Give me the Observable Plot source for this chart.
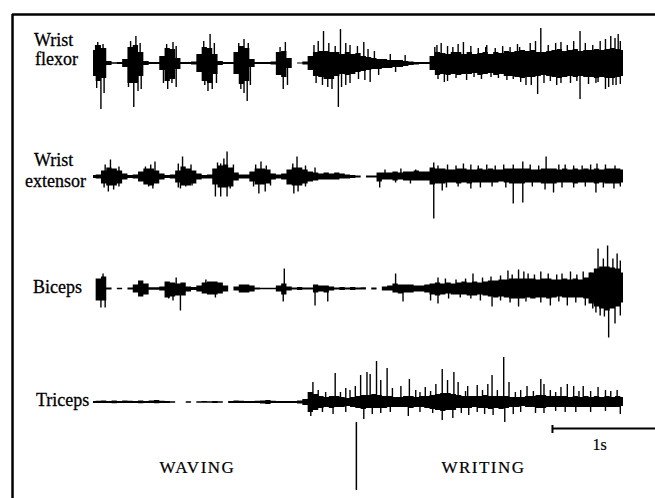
<!DOCTYPE html>
<html><head><meta charset="utf-8">
<script src="https://cdn.jsdelivr.net/npm/d3@7"></script>
<script src="https://cdn.jsdelivr.net/npm/@observablehq/plot@0.6"></script>
<style>
body{margin:0;background:#fff;}
#chart svg{display:block;}
</style></head><body><div id="chart"></div>
<script>
// ---- data (EMG envelopes; one value per 50 ms, 0 … 5 s) ----
const sampleStep = 0.05; // seconds between envelope samples
const muscles = ["Wrist flexor", "Wrist extensor", "Biceps", "Triceps"];
const phases = ["WAVING", "WRITING"];
const phaseSwitch = 2.48; // s
const scaleBarLabel = "1s";

// amplitude above (Up) and below (Down) the resting line, arbitrary units
const flexorUp = [13,18,15,2,0.8,1, 4,16,18,11,2,1,1, 7,15,14,5,1,1,1.5, 9,16,15,9,2,1,1, 11,17,15,4,1,1,1,1.5, 11,12,5,0,0.6,1.5,
 7,11,12,12,11,11,9,11,9,10,7,6,5,4,4,3,3,3,2,1.5,1,1,1,
 7,11,10,9,11,11,9,11,9,10,11,9,11,10,12,11,12,13,12,13,11,11,12,13,14,12,13,14,12,13,13,14,13,14,15,14,13];
const flexorDown = [13,18,15,2,0.8,1, 4,20,20,13,2,1,1, 7,18,16,6,1,1,1.5, 9,18,20,11,2,1,1, 11,21,18,4,1,1,1,1.5, 12,14,5,0,0.6,1.5,
 7,13,14,16,16,13,11,12,11,9,8,7,6,6,5,5,4,4,3,2,1.5,1,1,
 7,12,11,12,11,12,11,11,10,12,11,10,12,11,13,13,14,15,14,14,13,12,13,14,15,14,13,14,13,14,14,15,14,15,15,14,13];

const extensorUp = [1.5,2,6,9,8,6,3,1.5,2, 5,8,8,6,3,1.5,2, 6,10,8,6,3,1.5,2, 8,11,12,9,4,2,2, 5,8,8,7,3,2,3,
 7,9,9,7,5,4,3,4,3,4,3,2,1.5, 1,0,1,1, 4,4,4,5,4,5,5,6,5,5,
 9,8,8,7,7,8,8,7,7,8,7,8,7,7,8,8,8,8,8,7,7,8,8,8,7,8,7,8,7,8,7,8,7,8,8,8,7];
const extensorDown = [1.5,2,7,9,9,7,3,1.5,2, 5,8,9,7,3,1.5,2, 6,9,9,7,3,2,2, 8,11,11,10,4,2,2, 5,8,8,7,3,2,3,
 8,9,9,7,5,4,3,3,3,3,2,2,1.5, 1,0,1,1, 5,3,3,4,3,4,4,4,4,4,
 8,7,7,6,6,7,6,7,6,6,6,6,6,5,6,7,7,7,6,6,6,7,7,7,6,6,6,7,6,6,6,7,6,7,7,7,6];

const bicepsUp = [0,10,12,1,0,0.8,0, 1,4,8,5,1.2,1.2,2, 7,6,5,6,2,1.5,3, 6,7,7,6,3,0,2, 4,4,3,1,0.8,0.8,0.8, 3,5,2,1,1.5,1,1,
 4,3,3,2,1,1.5,1,1.5,1,1.2,0,1,0, 2,3,5,4,4,4,3,3,4,
 5,6,5,6,5,6,7,6,7,6,7,8,8,9,9,10,10,10,10,10,9,10,10,9,9,10,9,10,9,11,16,20,22,22,21,20,16];
const bicepsDown = [0,12,12,1,0,0.8,0, 1,4,8,6,1.2,1.2,2, 9,8,7,7,3,1.5,3, 5,6,6,5,3,0,2, 4,4,3,1,0.8,0.8,0.8, 3,6,2,1,1.5,1,1,
 4,3,4,2,1,1.5,1,1.5,1,1,0,1,0, 2,2,4,5,4,4,3,3,4,
 6,7,6,5,6,6,6,7,7,6,7,8,9,8,9,10,10,10,9,10,9,9,10,9,8,9,9,9,9,10,15,18,20,22,20,18,14];

const tricepsUp = [1,1.2,1.5,1,1.5,1,1.5,1.2,1,1.5,1,1.5,2,1.2,1, 0.8,0,0,0.8,0,0.8,1,0.8,1,0.8,0,
 1,1.5,1.2,1,1,1.2,1.5,2,1.2,1,1,1,1,1.5,3,
 10,8,6,5,6,6,5,4,5,6,7,7,8,7,6,6,5,5,6,6,5,6,6,
 7,8,9,9,8,7,6,6,6,6,7,6,6,6,6,5,5,5,6,6,7,7,6,6,6,6,5,6,5,6,5,6,5,6,5,6,5];
const tricepsDown = [1,1,1,1,1.2,1,1,1,1,1.2,1,1,1.2,1,1, 0.8,0,0,0.8,0,0.8,0.8,0.8,1,0.8,0,
 1,1,1,1,1,1,1.5,2,1,1,1,1,1,1.5,3,
 10,8,6,5,6,5,5,4,5,6,7,6,6,6,6,5,5,5,5,6,5,5,6,
 7,8,9,8,8,6,6,6,5,6,6,7,6,7,6,5,5,4,5,5,6,6,5,5,5,5,5,5,5,5,5,5,5,5,5,5,4];

// single discharges: [time s, length (+ up / − down)]
const flexorSpikes = [[0.02,18],[0.04,21],[0.09,19],[0.03,-25],[0.07,-46],[0.10,-30],
 [0.35,22],[0.40,27],[0.44,20],[0.33,-24],[0.38,-44],[0.42,-28],[0.45,-26],
 [0.69,19],[0.75,21],[0.78,17],[0.66,-20],[0.70,-26],[0.74,-20],[0.78,-24],
 [1.04,22],[1.10,29],[1.14,20],[1.05,-22],[1.08,-28],[1.12,-26],[1.16,-20],
 [1.37,20],[1.42,24],[1.46,20],[1.39,-26],[1.42,-30],[1.45,-38],[1.48,-22],
 [1.76,16],[1.81,21],[1.79,-26],[1.83,-22],
 [2.08,18],[2.12,22],[2.17,32],[2.22,20],[2.28,17],[2.33,34],[2.38,20],[2.42,18],[2.49,17],[2.55,21],[2.59,14],[2.65,12],[2.80,9],[2.94,8],
 [2.10,-20],[2.16,-22],[2.21,-24],[2.25,-26],[2.31,-44],[2.34,-24],[2.38,-22],[2.42,-20],[2.50,-16],[2.56,-17],[2.61,-19],[2.69,-12],[2.85,-9],
 [3.22,16],[3.24,18],[3.28,20],[3.34,17],[3.39,16],[3.44,19],[3.49,21],[3.56,17],[3.63,15],[3.70,16],[3.71,18],[3.79,15],[3.86,17],[3.93,16],
 [4.00,19],[4.02,16],[4.12,20],[4.17,22],[4.22,35],[4.29,18],[4.36,20],[4.41,21],[4.47,18],[4.53,22],[4.59,32],[4.64,20],[4.71,18],[4.78,22],
 [4.83,24],[4.88,27],[4.92,25],[4.95,29],[4.97,22],
 [3.25,-16],[3.31,-19],[3.34,-18],[3.42,-15],[3.52,-17],[3.59,-14],[3.66,-16],[3.75,-14],[3.82,-15],[3.90,-17],[3.96,-16],[4.03,-19],
 [4.08,-22],[4.13,-22],[4.19,-31],[4.25,-20],[4.31,-18],[4.37,-22],[4.41,-20],[4.50,-20],[4.56,-18],[4.59,-36],[4.67,-21],[4.74,-20],
 [4.76,-19],[4.83,-26],[4.86,-24],[4.90,-22],[4.93,-22],[4.97,-21]];
const extensorSpikes = [[0.11,12],[0.16,17],[0.24,10],[0.10,-11],[0.14,-15],[0.19,-13],[0.24,-10],
 [0.49,10],[0.54,12],[0.58,15],[0.52,-10],[0.56,-12],
 [0.80,13],[0.84,20],[0.92,12],[0.80,-11],[0.82,-12],[0.87,-10],[0.93,-9],
 [1.17,14],[1.20,13],[1.23,18],[1.26,25],[1.32,12],[1.15,-20],[1.20,-20],[1.26,-20],[1.29,-12],
 [1.53,12],[1.58,15],[1.63,11],[1.51,-10],[1.56,-17],[1.62,-15],[1.67,-9],
 [1.88,13],[1.92,20],[2.00,11],[2.09,9],[1.89,-17],[1.93,-15],[2.00,-10],
 [2.70,-11],[2.75,7],[2.85,-6],[2.90,8],[2.99,-7],[3.04,7],
 [3.21,14],[3.25,11],[3.34,12],[3.42,11],[3.49,13],[3.56,12],[3.63,11],[3.71,12],[3.79,11],[3.87,12],[3.96,12],[4.05,15],[4.12,12],
 [4.20,11],[4.27,20],[4.39,12],[4.45,12],[4.53,11],[4.61,11],[4.69,12],[4.75,13],[4.83,12],[4.92,11],
 [3.21,-42],[3.29,-14],[3.33,-11],[3.44,-10],[3.56,-12],[3.65,-11],[3.76,-10],[3.89,-11],[3.96,-27],[4.05,-26],[4.14,-10],[4.26,-13],
 [4.34,-16],[4.42,-11],[4.53,-11],[4.64,-10],[4.74,-16],[4.81,-11],[4.91,-12],[4.97,-10]];
const bicepsSpikes = [[0.09,15],[0.07,-19],[0.11,-19],[0.71,-10],[0.75,-12],[0.78,11],[0.82,-22],[1.06,9],[1.15,-9],
 [1.80,20],[1.79,-13],[2.09,-17],[2.21,-13],
 [2.85,15],[2.92,-13],[3.18,-12],[3.25,11],[3.25,-15],[3.32,10],[3.35,-10],[3.42,9],[3.46,-9],[3.51,10],[3.56,-10],[3.58,15],
 [3.65,-12],[3.67,11],[3.75,12],[3.76,-18],[3.84,13],[3.84,-12],[3.91,18],[3.93,-14],[3.95,14],[4.01,19],[4.01,-18],[4.06,17],
 [4.08,-13],[4.10,15],[4.16,14],[4.22,17],[4.22,-14],[4.29,15],[4.31,-17],[4.37,14],[4.39,-13],[4.42,15],[4.47,-17],[4.50,17],
 [4.55,-14],[4.56,14],[4.62,17],[4.64,-17],[4.69,16],[4.71,-20],[4.74,-24],[4.76,40],[4.78,-27],[4.81,30],[4.82,-28],[4.85,43],
 [4.86,-49],[4.90,30],[4.92,-35],[4.94,35],[4.97,28],[4.97,-27]];
const tricepsSpikes = [[2.07,20],[2.12,12],[2.19,10],[2.28,29],[2.33,10],[2.38,14],[2.42,12],[2.47,16],[2.52,27],[2.58,30],[2.61,28],
 [2.67,41],[2.71,22],[2.77,34],[2.82,14],[2.90,16],[2.98,23],[3.04,12],[3.08,10],[3.13,15],[3.18,11],[3.23,18],[3.29,33],[3.34,22],
 [3.40,30],[3.44,20],[3.51,11],[3.53,16],[3.62,17],[3.67,12],[3.72,18],[3.76,27],[3.81,12],[3.87,45],[3.92,20],[3.98,10],[4.03,12],
 [4.09,16],[4.15,11],[4.22,23],[4.25,18],[4.31,12],[4.36,10],[4.41,15],[4.47,18],[4.53,16],[4.58,11],[4.62,16],[4.69,11],[4.76,15],
 [4.83,12],[4.88,11],[4.94,12],
 [2.05,-14],[2.16,-10],[2.26,-12],[2.38,-10],[2.55,-17],[2.63,-12],[2.71,-11],[2.80,-10],[2.97,-14],[3.08,-10],[3.20,-11],[3.29,-18],
 [3.39,-16],[3.47,-11],[3.54,-13],[3.62,-10],[3.69,-12],[3.77,-13],[3.88,-20],[3.96,-12],[4.03,-10],[4.17,-11],[4.25,-11],[4.36,-9],
 [4.45,-10],[4.55,-10],[4.69,-10],[4.83,-9],[4.97,-12]];

// ---- layout (positions on the page) ----
const lane = {"Wrist flexor": 63, "Wrist extensor": 176.5, "Biceps": 288.5, "Triceps": 402};
const layout = {
  xMin: -0.8774, xMax: 5.302, frameLeft: -0.764, frameTop: 14, bottom: 498,
  labelLines: [
    {text: "Wrist", x: -0.377, y: 40},
    {text: "flexor", x: -0.349, y: 59},
    {text: "Wrist", x: -0.377, y: 160},
    {text: "extensor", x: -0.358, y: 181},
    {text: "Biceps", x: -0.34, y: 287},
    {text: "Triceps", x: -0.292, y: 400}
  ],
  phaseLabelX: [0.981, 3.679], phaseLabelY: 467,
  dividerY1: 422, dividerY2: 490,
  barStart: 4.33, barY: 428, barTickY1: 425, barTickY2: 433, barLabelX: 4.774, barLabelY: 444
};

// ---- build tables ----
const series = {
  "Wrist flexor": [flexorUp, flexorDown, flexorSpikes],
  "Wrist extensor": [extensorUp, extensorDown, extensorSpikes],
  "Biceps": [bicepsUp, bicepsDown, bicepsSpikes],
  "Triceps": [tricepsUp, tricepsDown, tricepsSpikes]
};
const env = [], spikes = [];
for (const m of muscles) {
  const [up, down, sp] = series[m];
  up.forEach((u, i) => env.push({muscle: m, t: i * sampleStep, top: lane[m] - u, bottom: lane[m] + down[i]}));
  sp.forEach(([t, len]) => spikes.push({muscle: m, t, y1: lane[m], y2: lane[m] - len}));
}

const serif = "Liberation Serif, Times New Roman, serif";
const plot = Plot.plot({
  width: 655, height: 498, margin: 0,
  style: {background: "white"},
  x: {domain: [layout.xMin, layout.xMax], axis: null},
  y: {domain: [0, 498], range: [0, 498], axis: null},
  marks: [
    Plot.ruleY([{y: layout.frameTop}], {y: "y", x1: layout.frameLeft, x2: layout.xMax, strokeWidth: 2.5}),
    Plot.ruleX([{x: layout.frameLeft}], {x: "x", y1: layout.frameTop, y2: layout.bottom, strokeWidth: 2.5}),
    Plot.areaY(env, {x: "t", y1: "top", y2: "bottom", z: "muscle", fill: "black", curve: "step"}),
    Plot.ruleX(spikes, {x: "t", y1: "y1", y2: "y2", stroke: "black", strokeWidth: 1.4}),
    Plot.text(layout.labelLines, {x: "x", y: "y", text: "text", fontFamily: serif, fontSize: 18, fill: "black", stroke: "black", strokeWidth: 0.3, textAnchor: "middle"}),
    Plot.ruleX([{x: phaseSwitch}], {x: "x", y1: layout.dividerY1, y2: layout.dividerY2, strokeWidth: 1.5}),
    Plot.text(phases.map((p, i) => ({p, x: layout.phaseLabelX[i]})), {x: "x", y: layout.phaseLabelY, text: "p", fontFamily: serif, fontSize: 17, fill: "black", stroke: "black", strokeWidth: 0.2}),
    Plot.ruleY([{y: layout.barY}], {y: "y", x1: layout.barStart, x2: layout.barStart + 1, strokeWidth: 2}),
    Plot.ruleX([{x: layout.barStart}], {x: "x", y1: layout.barTickY1, y2: layout.barTickY2, strokeWidth: 2}),
    Plot.text([scaleBarLabel], {x: layout.barLabelX, y: layout.barLabelY, text: d => d, fontFamily: serif, fontSize: 16, fill: "black", stroke: "black", strokeWidth: 0.2})
  ]
});
d3.select(plot).selectAll("text").filter(function () { return phases.includes(this.textContent); })
  .attr("letter-spacing", "1.5");
document.getElementById("chart").appendChild(plot);
</script>
</body></html>
